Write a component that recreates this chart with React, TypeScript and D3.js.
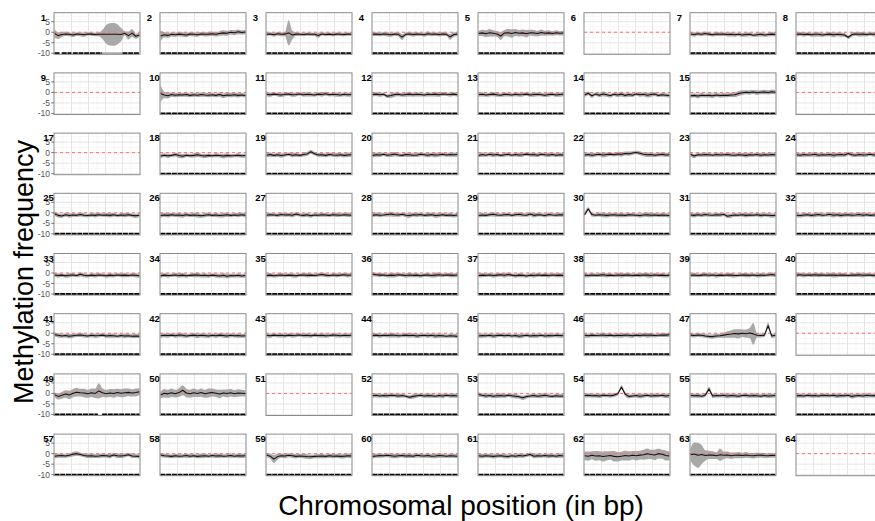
import React from 'react';
import * as d3 from 'd3';

const WIDTH = 875;
const HEIGHT = 521;
const N_COLS = 8;
const PANEL_IDS = d3.range(1, 65);
const Y_TICKS = [5, 0, -5, -10];
const Y_MINOR = [7.5, 2.5, -2.5, -7.5];
const X_GRID_MAJOR = [0.2, 0.4, 0.6, 0.8];
const X_GRID_MINOR = [0.1, 0.3, 0.5, 0.7, 0.9];
const Y_DOMAIN = [-10.5, 9.3];
const X_TITLE = 'Chromosomal position (in bp)';
const Y_TITLE = 'Methylation frequency';

// shared ribbon half-width profiles
const SP_A = [0.9, 1.0, 0.8, 0.9, 1.0, 0.9, 0.8, 1.0, 0.9, 0.8, 0.9, 1.0, 0.9, 0.8, 0.9, 1.0, 0.9, 0.8, 0.9, 1.0, 0.8, 0.9, 1.0, 0.9];
const SP_B = [1.1, 0.9, 1.0, 0.8, 0.9, 1.1, 1.0, 0.9, 0.8, 1.0, 1.1, 0.9, 1.0, 0.9, 0.8, 1.0, 0.9, 1.1, 1.0, 0.9, 0.8, 1.0, 0.9, 1.0];

// mean methylation difference per panel (null = empty panel)
const MEANS: (number[] | null)[] = [
  [-0.6, -1.6, -1.1, -0.8, -1.0, -1.3, -0.9, -1.0, -1.2, -0.8, -0.9, -1.1, -1.0, -1.0, -1.0, -1.0, -1.0, -1.0, -1.1, -0.5, -1.6, -0.4, -1.9, -1.3],
  [-1.8, -1.2, -1.5, -1.0, -1.2, -0.9, -1.1, -1.3, -0.9, -1.0, -1.2, -0.8, -1.0, -0.9, -0.7, -1.0, -0.6, -0.3, -0.5, 0.0, -0.2, 0.2, -0.1, 0.1],
  [-1.0, -0.8, -1.2, -0.7, -1.0, -0.9, -0.3, -1.3, -0.9, -1.0, -1.1, -0.9, -1.0, -1.0, -1.5, -0.8, -1.1, -0.9, -1.2, -0.9, -1.0, -1.1, -0.9, -1.0],
  [-1.0, -0.9, -1.1, -0.8, -1.0, -1.2, -0.9, -1.0, -2.3, -1.0, -0.8, -1.1, -0.9, -1.0, -1.2, -0.7, -1.0, -0.9, -1.1, -0.8, -1.0, -2.2, -1.1, -0.9],
  [-0.6, -0.3, -0.7, -0.2, -0.5, -0.8, -1.8, -0.4, -0.2, -0.6, -0.1, -0.5, -0.3, -0.7, -0.2, -0.4, -0.6, -0.1, -0.5, -0.3, -0.6, -0.2, -0.5, -0.4],
  null,
  [-0.8, -1.1, -0.7, -1.0, -0.6, -0.9, -1.2, -0.8, -1.0, -0.9, -1.1, -1.0, -1.2, -1.0, -1.3, -1.1, -1.0, -1.4, -1.2, -1.0, -1.3, -1.1, -0.9, -1.1],
  [-1.0, -0.8, -1.1, -0.9, -1.2, -1.0, -1.0, -1.3, -1.1, -0.9, -1.2, -1.0, -1.1, -1.3, -2.4, -1.1, -0.8, -1.0, -0.9, -1.1, -0.8, -1.0, -0.9, -0.7],
  null,
  [-0.5, -1.2, -1.6, -1.0, -1.3, -1.1, -1.2, -1.0, -1.4, -1.1, -1.3, -1.0, -1.2, -1.3, -1.1, -1.4, -1.0, -1.6, -1.2, -1.3, -1.1, -1.4, -1.2, -1.5],
  [-0.9, -1.1, -0.8, -1.0, -1.2, -0.9, -0.8, -1.1, -1.0, -0.7, -1.1, -0.9, -1.0, -1.2, -0.8, -1.0, -0.6, -1.1, -0.9, -1.0, -1.2, -0.9, -1.1, -1.0],
  [-1.0, -0.8, -1.1, -0.9, -1.8, -1.5, -1.0, -0.9, -1.2, -1.0, -0.8, -1.1, -0.9, -1.0, -1.2, -0.9, -1.0, -0.8, -1.1, -0.7, -0.9, -1.0, -0.8, -1.1],
  [-1.1, -0.9, -1.2, -1.0, -0.8, -1.1, -1.3, -0.9, -1.0, -1.2, -0.9, -1.1, -1.0, -0.8, -1.2, -1.0, -0.9, -1.1, -1.3, -1.0, -0.9, -1.2, -1.0, -0.9],
  [-1.2, -0.4, -1.6, -0.8, -1.3, -0.7, -1.1, -1.5, -0.9, -1.2, -0.8, -1.4, -1.0, -1.3, -0.7, -1.1, -0.9, -1.3, -1.0, -0.8, -1.4, -1.1, -1.3, -1.5],
  [-1.6, -1.4, -1.7, -1.3, -1.5, -1.4, -1.6, -1.2, -1.5, -1.3, -1.4, -1.2, -1.1, -0.5, -0.1, 0.1, 0.0, 0.2, -0.1, 0.1, 0.2, 0.0, 0.3, 0.1],
  null,
  null,
  [-1.6, -1.2, -1.5, -1.3, -0.9, -1.4, -1.7, -1.2, -1.5, -1.3, -1.0, -1.4, -1.6, -1.3, -1.5, -1.2, -1.4, -1.6, -1.3, -1.5, -1.4, -1.2, -1.5, -1.4],
  [-1.2, -0.9, -1.3, -1.0, -1.4, -1.1, -0.8, -1.2, -1.0, -1.3, -0.9, -0.6, 0.4, -0.5, -1.1, -1.0, -1.3, -0.9, -1.1, -1.2, -1.0, -1.3, -1.1, -1.0],
  [-1.3, -1.0, -1.1, -0.8, -1.2, -1.0, -0.7, -1.1, -1.3, -0.9, -1.0, -1.2, -1.1, -0.8, -1.0, -1.2, -0.9, -1.1, -1.0, -0.8, -1.1, -0.9, -1.0, -0.9],
  [-1.4, -0.9, -1.2, -0.8, -1.1, -0.9, -1.3, -1.0, -0.8, -1.2, -0.9, -1.1, -1.0, -0.7, -1.0, -0.9, -1.2, -0.8, -1.0, -1.1, -0.9, -1.2, -1.0, -1.1],
  [-1.1, -0.9, -1.2, -1.0, -0.8, -1.1, -0.9, -0.7, -1.0, -0.6, -0.8, -0.4, -0.5, -0.2, 0.1, -0.3, -0.8, -1.0, -0.9, -1.2, -1.0, -0.8, -1.1, -1.0],
  [-0.8, -1.6, -1.0, -1.1, -0.9, -1.0, -1.2, -0.9, -1.1, -1.0, -0.9, -1.1, -1.2, -1.0, -1.1, -1.3, -1.0, -1.1, -0.9, -1.2, -1.0, -1.1, -0.9, -1.0],
  [-1.0, -1.2, -0.9, -1.1, -1.0, -0.8, -1.2, -1.0, -1.1, -0.9, -1.2, -1.0, -0.9, -1.1, -0.4, -1.0, -1.2, -0.9, -1.1, -1.0, -0.8, -1.1, -1.2, -1.0],
  [-0.4, -1.2, -1.5, -0.9, -1.3, -1.0, -1.2, -0.8, -1.1, -1.3, -1.0, -1.2, -0.9, -1.1, -1.0, -1.2, -0.9, -1.3, -1.0, -1.1, -0.9, -1.2, -1.4, -1.1],
  [-1.3, -1.0, -1.2, -0.9, -1.1, -1.0, -1.3, -0.9, -1.2, -1.0, -1.1, -1.4, -1.1, -0.9, -1.2, -1.0, -1.3, -1.1, -0.9, -1.2, -1.0, -1.1, -0.9, -1.2],
  [-1.1, -0.9, -1.0, -1.2, -0.8, -1.0, -0.9, -1.1, -0.6, -1.0, -1.2, -0.9, -1.4, -1.0, -1.1, -0.9, -1.0, -1.2, -0.9, -1.0, -1.1, -0.9, -1.0, -1.1],
  [-1.2, -0.9, -1.1, -1.0, -0.8, -0.6, -0.9, -1.0, -0.7, -1.1, -1.3, -0.9, -1.0, -0.8, -1.2, -1.0, -0.9, -1.3, -1.1, -0.9, -1.2, -1.0, -1.3, -1.0],
  [-1.3, -1.0, -1.2, -0.9, -0.7, -1.0, -1.1, -0.9, -0.8, -1.2, -0.9, -0.7, -1.0, -1.1, -0.6, -1.2, -0.9, -1.0, -1.3, -0.8, -1.0, -1.1, -0.9, -1.0],
  [-1.0, 1.8, -0.8, -1.1, -0.9, -1.0, -1.2, -1.0, -0.9, -1.1, -1.0, -1.2, -0.9, -1.0, -1.1, -1.3, -1.0, -0.9, -1.1, -1.0, -1.2, -1.0, -1.1, -1.3],
  [-1.0, -1.2, -0.9, -1.1, -0.8, -1.0, -1.1, -0.9, -1.0, -0.7, -1.6, -1.3, -1.0, -1.1, -0.9, -1.2, -1.0, -1.1, -0.9, -1.2, -1.0, -1.1, -1.3, -1.2],
  [-1.1, -1.3, -1.0, -0.9, -1.2, -1.0, -0.8, -1.1, -1.0, -0.7, -1.1, -0.9, -1.2, -1.0, -0.9, -1.1, -1.0, -0.8, -1.1, -0.9, -1.2, -1.0, -1.1, -1.0],
  [-0.9, -1.2, -1.0, -1.3, -1.1, -0.9, -1.2, -0.6, -1.1, -1.3, -1.0, -1.2, -0.9, -1.1, -1.3, -1.0, -1.2, -0.9, -1.1, -1.0, -1.2, -0.9, -1.1, -1.3],
  [-1.3, -1.0, -1.2, -1.1, -0.9, -1.2, -1.0, -1.3, -1.1, -1.0, -0.9, -1.2, -1.1, -1.3, -1.0, -1.2, -1.4, -1.1, -1.5, -1.2, -1.3, -1.1, -1.4, -1.2],
  [-1.2, -1.0, -1.3, -1.1, -0.9, -1.2, -1.0, -1.1, -1.3, -1.0, -0.9, -1.1, -1.0, -1.2, -0.9, -0.7, -1.0, -1.2, -0.9, -1.1, -1.0, -0.8, -1.1, -0.9],
  [-0.6, -0.8, -1.0, -0.9, -1.2, -1.0, -1.1, -0.8, -1.0, -1.2, -0.9, -1.1, -1.0, -1.3, -1.0, -0.9, -1.2, -1.0, -0.8, -1.1, -0.9, -1.0, -1.1, -0.9],
  [-1.2, -1.0, -1.1, -0.9, -1.2, -1.0, -0.8, -1.1, -0.7, -1.0, -1.3, -1.0, -1.1, -1.4, -1.0, -1.2, -0.9, -1.1, -1.0, -1.2, -0.9, -1.1, -1.0, -1.2],
  [-1.0, -1.2, -0.9, -1.1, -1.0, -0.8, -1.1, -1.0, -1.2, -0.9, -1.1, -1.0, -0.9, -1.2, -1.0, -1.1, -0.9, -1.0, -1.2, -0.9, -1.1, -1.0, -1.2, -1.0],
  [-1.1, -0.9, -1.2, -1.0, -0.8, -1.1, -0.9, -1.2, -1.0, -1.1, -0.9, -1.0, -1.2, -1.1, -0.9, -1.0, -1.1, -0.9, -1.2, -1.0, -1.1, -0.9, -0.7, -1.1],
  [-1.0, -0.8, -1.1, -0.9, -1.0, -0.8, -1.0, -0.9, -1.1, -0.9, -1.0, -1.1, -0.9, -1.0, -1.2, -0.9, -1.0, -0.8, -1.1, -0.9, -1.0, -1.1, -0.9, -1.0],
  [-0.7, -1.0, -1.3, -1.1, -1.4, -1.2, -1.0, -0.8, -1.1, -1.3, -1.0, -1.2, -1.1, -0.9, -1.3, -1.1, -1.2, -1.4, -1.1, -1.3, -1.2, -1.4, -1.3, -1.4],
  [-1.2, -1.0, -1.1, -0.9, -1.2, -0.8, -1.0, -1.3, -1.1, -0.9, -1.2, -1.0, -1.1, -1.3, -1.0, -1.2, -0.9, -1.1, -1.3, -1.0, -1.2, -1.1, -1.3, -1.2],
  [-1.0, -1.2, -0.9, -1.1, -1.0, -1.2, -0.9, -1.1, -1.0, -0.8, -1.1, -1.0, -1.2, -0.9, -1.1, -1.0, -1.2, -1.1, -0.9, -1.0, -1.2, -1.0, -1.1, -1.0],
  [-1.1, -0.9, -1.2, -1.0, -1.1, -0.9, -1.0, -1.2, -1.1, -0.9, -1.1, -1.0, -1.3, -1.1, -1.0, -1.2, -1.0, -1.3, -1.1, -1.2, -1.4, -1.2, -1.3, -1.5],
  [-1.3, -1.1, -1.2, -1.0, -1.3, -1.1, -0.9, -1.2, -1.0, -1.3, -1.1, -1.4, -1.2, -1.0, -1.3, -1.1, -1.2, -1.0, -1.3, -1.1, -1.2, -1.0, -1.1, -1.2],
  [-1.0, -1.2, -0.9, -1.1, -1.0, -0.8, -1.1, -0.9, -1.2, -1.0, -1.1, -0.9, -1.0, -1.2, -0.9, -1.1, -0.8, -1.0, -0.9, -1.1, -1.0, -0.8, -0.9, -0.7],
  [-0.9, -1.1, -0.8, -1.0, -1.3, -1.5, -1.6, -1.3, -1.2, -0.9, -0.6, -0.4, -0.1, -0.3, 0.0, -0.2, 0.1, -0.3, -1.0, -1.1, -0.9, 3.6, -1.3, -1.0],
  null,
  [-0.6, -1.4, -0.9, -0.3, -0.7, 0.1, 0.6, 0.3, 0.2, -0.2, 0.3, 0.0, 1.2, 0.3, -0.1, 0.2, 0.0, 0.4, 0.1, 0.3, 0.5, 0.2, 0.4, 0.8],
  [-0.8, 0.1, -0.2, 0.3, -0.1, 0.4, 1.5, 0.2, -0.1, 0.3, 0.0, 0.4, -0.2, 0.2, 0.5, 0.1, -0.3, 0.2, 0.0, 0.3, -0.1, 0.2, 0.1, 0.0],
  null,
  [-1.1, -0.9, -1.2, -1.0, -1.1, -0.9, -1.0, -1.2, -1.0, -1.3, -1.8, -1.4, -1.1, -0.9, -1.2, -1.0, -1.1, -1.3, -1.0, -1.2, -0.9, -1.1, -1.0, -1.2],
  [-0.5, -0.9, -1.2, -1.0, -1.3, -1.1, -1.0, -1.2, -0.9, -1.1, -1.3, -1.6, -2.1, -1.5, -1.2, -1.0, -1.3, -1.1, -0.9, -1.2, -1.4, -1.1, -1.3, -1.2],
  [-1.0, -0.9, -1.1, -1.0, -1.2, -0.9, -1.0, -1.1, -0.8, -0.2, 3.0, -0.3, -1.4, -1.2, -1.0, -1.3, -1.1, -0.9, -1.2, -1.0, -1.1, -0.9, -1.2, -1.0],
  [-0.9, -1.1, -1.0, -1.3, -0.8, 2.1, -1.2, -1.0, -1.1, -0.9, -1.2, -1.0, -1.1, -1.3, -1.0, -0.9, -1.2, -1.0, -1.1, -1.3, -1.0, -1.2, -1.1, -1.0],
  [-1.1, -1.0, -1.2, -0.9, -1.1, -1.0, -1.2, -0.9, -1.0, -1.1, -0.9, -1.2, -1.0, -1.1, -0.9, -1.4, -1.1, -1.0, -1.2, -0.9, -1.1, -1.0, -1.2, -1.1],
  [-1.2, -1.0, -0.9, -1.1, -0.8, -0.3, 0.0, -0.4, -0.9, -1.1, -1.0, -1.2, -1.1, -0.9, -1.0, -1.2, -0.6, -1.0, -1.1, -0.9, -0.5, -1.1, -1.2, -1.3],
  [-0.6, -1.0, -1.1, -1.3, -1.0, -1.2, -1.1, -0.9, -1.2, -1.0, -1.3, -1.1, -1.0, -1.2, -0.9, -1.1, -1.0, -1.2, -1.1, -0.9, -1.2, -1.0, -1.1, -1.0],
  [-0.7, -1.2, -2.6, -1.4, -1.0, -1.1, -0.8, -1.0, -1.3, -1.1, -1.2, -1.4, -1.5, -1.3, -1.2, -1.1, -1.3, -1.0, -1.2, -1.1, -1.3, -1.2, -1.0, -1.1],
  [-1.3, -1.1, -0.9, -1.0, -0.8, -1.0, -1.2, -1.0, -0.9, -1.1, -1.0, -1.2, -0.8, -1.0, -1.1, -0.9, -1.2, -1.1, -0.9, -1.0, -1.2, -1.0, -1.1, -1.2],
  [-1.0, -1.2, -1.0, -1.1, -1.3, -1.1, -1.0, -1.2, -1.4, -1.0, -1.2, -0.9, -1.1, -0.8, -0.4, -1.2, -1.0, -1.1, -0.9, -1.1, -1.0, -1.2, -0.9, -1.1],
  [-1.0, -1.2, -0.8, -1.1, -1.0, -1.4, -1.1, -0.9, -1.3, -1.5, -1.2, -0.9, -1.1, -0.8, -1.0, -0.7, -0.5, -0.1, -0.4, -0.6, 0.0, -0.3, -0.9, -1.1],
  [-0.5, -0.2, -0.8, -0.4, -0.9, -0.6, -0.7, -1.0, -0.5, -0.8, -0.6, -1.0, -0.8, -0.7, -0.9, -0.6, -0.9, -1.0, -0.8, -0.7, -0.9, -1.0, -0.8, -0.9],
  null,
];

// ribbon half-widths per panel
const SPREADS: (number[] | null)[] = [
  [2.2, 1.6, 1.2, 1.0, 0.9, 1.0, 0.8, 0.9, 1.0, 0.8, 0.8, 0.8, 0.9, 2.2, 4.5, 5.3, 5.4, 4.8, 3.2, 1.0, 1.8, 1.9, 1.2, 1.0],
  [2.5, 1.3, 1.1, 1.0, 1.0, 1.0, 1.1, 1.0, 0.9, 1.0, 1.0, 0.9, 1.0, 1.0, 1.1, 1.0, 1.1, 1.2, 1.2, 1.1, 1.2, 1.1, 1.0, 1.0],
  [0.8, 0.8, 0.9, 0.8, 0.9, 1.0, 6.0, 2.0, 0.9, 0.8, 0.8, 0.8, 0.8, 0.8, 1.2, 0.8, 0.8, 0.8, 0.8, 0.8, 0.8, 0.8, 0.8, 0.8],
  [0.9, 0.9, 0.8, 0.9, 1.0, 0.9, 0.8, 1.0, 1.4, 0.9, 0.9, 1.0, 0.9, 0.8, 0.9, 1.0, 0.9, 0.8, 0.9, 1.0, 0.8, 1.4, 1.0, 0.9],
  [1.2, 1.5, 1.6, 1.8, 1.5, 1.4, 1.9, 1.5, 1.8, 2.0, 1.7, 1.5, 1.6, 1.8, 1.4, 1.5, 1.3, 1.4, 1.2, 1.3, 1.1, 1.2, 1.0, 1.1],
  null,
  SP_A,
  SP_B,
  null,
  [4.3, 1.5, 1.3, 1.0, 1.0, 1.0, 0.9, 1.0, 0.9, 1.0, 0.9, 1.0, 0.9, 1.0, 1.0, 0.9, 1.0, 1.1, 1.0, 1.0, 0.9, 1.0, 0.9, 1.0],
  SP_A,
  SP_B,
  SP_A,
  SP_B,
  [1.0, 0.9, 1.1, 1.0, 0.9, 1.0, 1.1, 0.9, 1.0, 1.0, 0.9, 1.0, 1.1, 1.2, 1.1, 1.0, 1.1, 1.0, 1.1, 1.0, 1.1, 1.0, 1.1, 1.0],
  null,
  null,
  SP_B,
  SP_A,
  SP_B,
  SP_A,
  SP_B,
  SP_A,
  SP_B,
  SP_A,
  SP_B,
  SP_A,
  SP_B,
  SP_A,
  SP_B,
  SP_A,
  SP_B,
  SP_A,
  SP_B,
  SP_A,
  SP_B,
  SP_A,
  SP_B,
  SP_A,
  SP_B,
  SP_A,
  SP_B,
  SP_A,
  SP_B,
  SP_A,
  SP_B,
  [0.9, 0.9, 0.9, 0.9, 0.9, 0.9, 1.0, 1.0, 1.0, 1.2, 1.5, 1.8, 2.0, 2.2, 1.8, 2.0, 2.4, 5.2, 1.0, 0.9, 0.9, 1.5, 1.0, 0.9],
  null,
  [1.0, 1.5, 1.6, 1.8, 2.0, 1.9, 2.1, 1.8, 2.0, 1.9, 2.0, 2.2, 3.6, 2.0, 1.8, 1.9, 2.0, 1.8, 1.9, 2.0, 1.8, 1.7, 1.9, 1.6],
  [1.5, 2.0, 1.9, 2.0, 1.8, 2.1, 2.4, 2.0, 1.9, 2.0, 1.8, 2.0, 1.9, 2.1, 1.9, 1.8, 2.0, 1.7, 1.9, 1.8, 1.7, 1.8, 1.6, 1.5],
  null,
  SP_A,
  SP_B,
  SP_A,
  SP_B,
  SP_A,
  SP_B,
  SP_A,
  [1.0, 1.2, 1.9, 1.4, 1.0, 1.1, 0.9, 1.0, 1.0, 0.9, 1.0, 1.1, 1.0, 0.9, 1.0, 1.1, 0.9, 1.0, 1.0, 0.9, 1.0, 1.0, 0.9, 1.0],
  SP_B,
  SP_A,
  [2.0, 2.2, 1.9, 2.3, 2.1, 2.4, 2.2, 2.0, 2.5, 2.3, 2.1, 2.4, 2.2, 2.0, 2.3, 2.1, 2.4, 2.6, 2.2, 2.5, 2.3, 2.1, 2.4, 2.0],
  [3.0, 5.5, 6.0, 4.5, 2.5, 2.0, 1.8, 1.6, 3.0, 1.8, 1.6, 1.5, 1.4, 1.5, 1.3, 1.4, 1.2, 1.3, 1.2, 1.1, 1.2, 1.0, 1.1, 1.0],
  null,
];

// rug gaps (fraction of panel width) and grey rug stretches
const RUG_GAPS: Record<number, [number, number][]> = {
  1: [[0.06, 0.085], [0.2, 0.215], [0.56, 0.8]],
  49: [[0.51, 0.56]],
};
const RUG_GREY: Record<number, [number, number][]> = {
  1: [[0.56, 0.8]],
};

// layout
const COL0 = 54;
const COL_STEP = 106;
const PANEL_W = 86;
const ROW0 = 12.7;
const ROW_STEP = 60.2;
const PANEL_H = 41.6;

const FONT = "'Liberation Sans', Arial, Helvetica, sans-serif";

function rugSegments(id: number): [number, number][] {
  const gaps = RUG_GAPS[id] || [];
  const segs: [number, number][] = [];
  let s = 0;
  gaps.forEach(([a, b]) => {
    segs.push([s, a]);
    s = b;
  });
  segs.push([s, 1]);
  return segs;
}

function Panel({ id, k }: { id: number; k: number }) {
  const c = k % N_COLS;
  const r = Math.floor(k / N_COLS);
  const left = COL0 + c * COL_STEP;
  const top = ROW0 + r * ROW_STEP;
  const y = d3.scaleLinear().domain(Y_DOMAIN).range([top + PANEL_H, top]);
  const fx = d3.scaleLinear().domain([0, 1]).range([left + 0.5, left + PANEL_W - 0.5]);
  const mean = MEANS[id - 1];
  const spread = SPREADS[id - 1];
  let ribbonPath: string | null = null;
  let linePath: string | null = null;
  if (mean && spread) {
    const x = d3.scaleLinear().domain([0, mean.length - 1]).range([left + 0.5, left + PANEL_W - 0.5]);
    const idx = d3.range(mean.length);
    ribbonPath = d3
      .area<number>()
      .x((i) => x(i))
      .y0((i) => y(mean[i] - spread[i]))
      .y1((i) => y(mean[i] + spread[i]))
      .curve(d3.curveMonotoneX)(idx);
    linePath = d3
      .line<number>()
      .x((i) => x(i))
      .y((i) => y(mean[i]))(idx);
  }
  const labelW = String(id).length * 5.3;
  const clipId = `clip-${id}`;
  return (
    <g>
      <defs>
        <clipPath id={clipId}>
          <rect x={left} y={top} width={PANEL_W} height={PANEL_H} />
        </clipPath>
      </defs>
      <rect x={left} y={top} width={PANEL_W} height={PANEL_H} fill="#fff" />
      {Y_MINOR.map((v) => (
        <line key={'ym' + v} x1={left} x2={left + PANEL_W} y1={y(v)} y2={y(v)} stroke="#f2f2f2" strokeWidth={0.6} />
      ))}
      {X_GRID_MINOR.map((v) => (
        <line key={'xm' + v} x1={fx(v)} x2={fx(v)} y1={top} y2={top + PANEL_H} stroke="#f2f2f2" strokeWidth={0.6} />
      ))}
      {Y_TICKS.map((v) => (
        <line key={'yg' + v} x1={left} x2={left + PANEL_W} y1={y(v)} y2={y(v)} stroke="#e6e6e6" strokeWidth={1} />
      ))}
      {X_GRID_MAJOR.map((v) => (
        <line key={'xg' + v} x1={fx(v)} x2={fx(v)} y1={top} y2={top + PANEL_H} stroke="#e6e6e6" strokeWidth={1} />
      ))}
      <g clipPath={`url(#${clipId})`}>
        {ribbonPath && <path d={ribbonPath} fill="#a8a8a8" />}
        <line
          x1={left}
          x2={left + PANEL_W}
          y1={y(0)}
          y2={y(0)}
          stroke="#ff6f6f"
          strokeWidth={1}
          strokeDasharray="3,3"
        />
        {linePath && <path d={linePath} fill="none" stroke="#111" strokeWidth={1.05} strokeLinejoin="round" />}
        {mean &&
          (RUG_GREY[id] || []).map(([a, b], i) => (
            <line key={'rg' + i} x1={fx(a)} x2={fx(b)} y1={y(-10)} y2={y(-10)} stroke="#b0b0b0" strokeWidth={2} />
          ))}
        {mean &&
          rugSegments(id).map(([a, b], i) => (
            <line
              key={'r' + i}
              x1={fx(a)}
              x2={fx(b)}
              y1={y(-10)}
              y2={y(-10)}
              stroke="#000"
              strokeWidth={2}
              strokeDasharray="5,0.7"
            />
          ))}
      </g>
      <rect x={left} y={top} width={PANEL_W} height={PANEL_H} fill="none" stroke="#8a8a8a" strokeWidth={1} />
      {c === 0 &&
        Y_TICKS.map((v) => (
          <g key={'t' + v}>
            <line x1={left - 2.7} x2={left} y1={y(v)} y2={y(v)} stroke="#555" strokeWidth={0.8} />
            <text
              x={left - 4}
              y={y(v)}
              dy="0.35em"
              textAnchor="end"
              fontSize={8.5}
              fill="#555"
              fontFamily={FONT}
            >
              {v}
            </text>
          </g>
        ))}
      <text
        x={left - 16 + labelW / 2}
        y={top + 8}
        fontSize={9.5}
        fontWeight="bold"
        fill="#000"
        fontFamily={FONT}
      >
        {id}
      </text>
    </g>
  );
}

export default function App() {
  return (
    <svg
      width={WIDTH}
      height={HEIGHT}
      style={{ position: 'absolute', left: 0, top: 0, background: '#fff' }}
    >
      <rect x={0} y={0} width={WIDTH} height={HEIGHT} fill="#fff" />
      {PANEL_IDS.map((id, k) => (
        <Panel key={id} id={id} k={k} />
      ))}
      <text
        transform={`translate(33,272) rotate(-90)`}
        textAnchor="middle"
        fontSize={27}
        fill="#000"
        fontFamily={FONT}
      >
        {Y_TITLE}
      </text>
      <text x={461} y={514.5} textAnchor="middle" fontSize={28} fill="#000" fontFamily={FONT}>
        {X_TITLE}
      </text>
    </svg>
  );
}
